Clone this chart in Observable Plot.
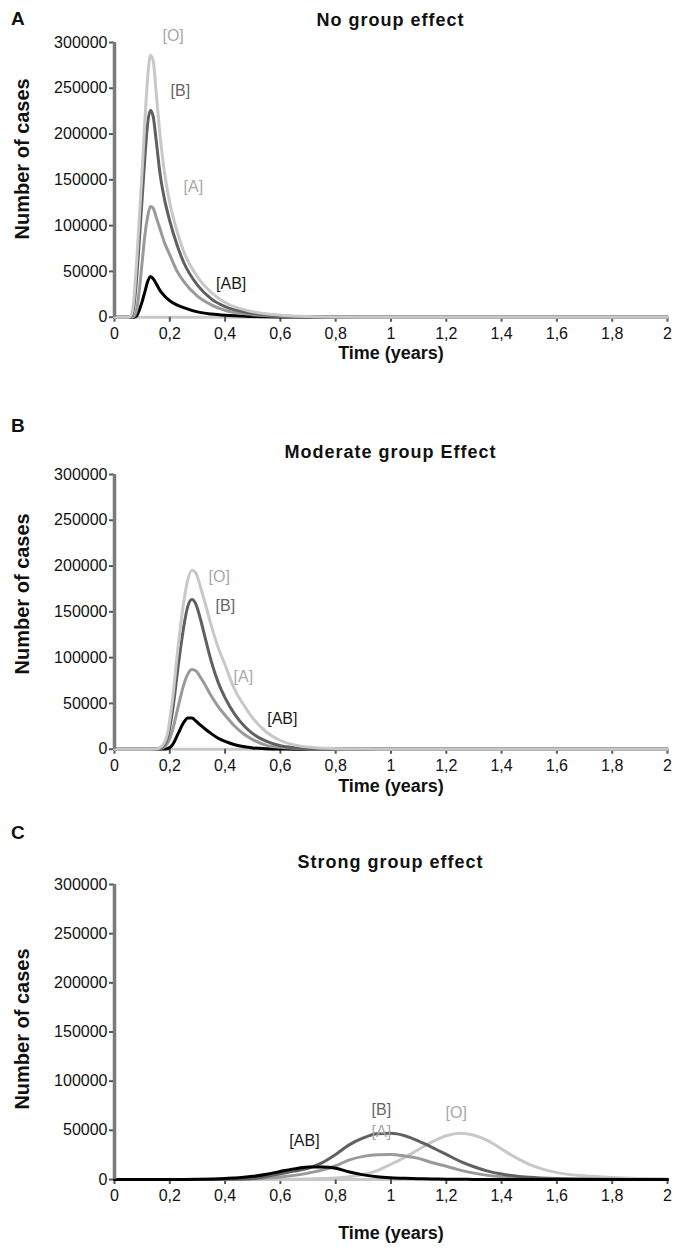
<!DOCTYPE html>
<html>
<head>
<meta charset="utf-8">
<script src="https://cdn.jsdelivr.net/npm/d3@7"></script>
<script src="https://cdn.jsdelivr.net/npm/@observablehq/plot@0.6"></script>
<style>
  html, body { margin: 0; padding: 0; background: #fff; }
  body { width: 681px; height: 1253px; position: relative; overflow: hidden; font-family: "Liberation Sans", Arial, sans-serif; color: #111; }
  .letter { position: absolute; left: 11px; font-weight: bold; font-size: 19px; line-height: 1; }
  .title { position: absolute; left: 114px; width: 553px; text-align: center; font-weight: bold; font-size: 18px; letter-spacing: 1px; line-height: 1; }
  .panel { position: absolute; left: 0; top: 0; }
</style>
</head>
<body>
<div class="letter" style="top:9px">A</div>
<div class="title" style="top:11px">No group effect</div>
<div class="panel" id="pA" style="top:30px"></div>

<div class="letter" style="top:416px">B</div>
<div class="title" style="top:443px">Moderate group Effect</div>
<div class="panel" id="pB" style="top:462px"></div>

<div class="letter" style="top:823px">C</div>
<div class="title" style="top:853px">Strong group effect</div>
<div class="panel" id="pC" style="top:872px"></div>

<script>
// ---------- axis ticks ----------
const xTicks = [0, 0.2, 0.4, 0.6, 0.8, 1, 1.2, 1.4, 1.6, 1.8, 2];
const xTickLabels = ["0", "0,2", "0,4", "0,6", "0,8", "1", "1,2", "1,4", "1,6", "1,8", "2"];
const yTicks = [0, 50000, 100000, 150000, 200000, 250000, 300000];
const yTickLabels = ["0", "50000", "100000", "150000", "200000", "250000", "300000"];
const groups = ["[O]", "[B]", "[A]", "[AB]"];

// ---------- Panel A: no group effect ----------
const timeA   = [0, 0.05, 0.06, 0.07, 0.08, 0.09, 0.10, 0.11, 0.12, 0.13, 0.14, 0.15, 0.165, 0.18, 0.20, 0.225, 0.25, 0.30, 0.35, 0.40, 0.50, 0.60, 0.70, 0.80, 1.00, 2.00];
const casesA_O  = [0, 0, 2000, 20000, 60000, 110000, 160000, 215000, 262000, 286000, 280000, 248000, 198000, 160000, 125000, 95000, 72000, 44000, 27000, 16000, 6000, 2200, 700, 200, 0, 0];
const casesA_B  = [0, 0, 1000, 12000, 42000, 85000, 130000, 175000, 212000, 226000, 219000, 195000, 156000, 130000, 105000, 80000, 60000, 35000, 20000, 11500, 4200, 1400, 400, 100, 0, 0];
const casesA_A  = [0, 0, 0, 1000, 8000, 30000, 60000, 90000, 110000, 121000, 119000, 110000, 96000, 82000, 68000, 51000, 39000, 23000, 13500, 7500, 2800, 900, 250, 50, 0, 0];
const casesA_AB = [0, 0, 0, 0, 1500, 8000, 17000, 28000, 39000, 44500, 42000, 37000, 29000, 23500, 18000, 13500, 10500, 5800, 3400, 2000, 700, 200, 50, 0, 0, 0];
const labelsA_t = [0.212, 0.238, 0.285, 0.422];
const labelsA_v = [307000, 247000, 142600, 36700];

// ---------- Panel B: moderate group effect ----------
const timeB   = [0, 0.10, 0.15, 0.17, 0.19, 0.21, 0.23, 0.25, 0.265, 0.28, 0.295, 0.31, 0.33, 0.35, 0.375, 0.40, 0.435, 0.47, 0.50, 0.55, 0.60, 0.65, 0.70, 0.80, 0.90, 1.00, 2.00];
const casesB_O  = [0, 0, 300, 3000, 15000, 55000, 112000, 160000, 185000, 195500, 192000, 178000, 157000, 135000, 111000, 92000, 65000, 47000, 34000, 18500, 9500, 4700, 2300, 600, 150, 0, 0];
const casesB_B  = [0, 0, 200, 2000, 11000, 42000, 90000, 133000, 156000, 163500, 158000, 143000, 119000, 96000, 73000, 56000, 38000, 25000, 17000, 8500, 3800, 1700, 700, 150, 0, 0, 0];
const casesB_A  = [0, 0, 100, 1000, 5500, 21000, 46000, 70000, 82000, 87000, 85500, 79000, 69000, 58000, 46500, 37000, 25000, 16000, 10500, 4200, 2000, 900, 350, 50, 0, 0, 0];
const casesB_AB = [0, 0, 0, 100, 500, 5000, 17000, 29000, 34000, 34000, 30500, 26500, 21500, 17000, 12000, 8500, 4800, 2600, 1400, 500, 200, 50, 0, 0, 0, 0, 0];
const labelsB_t = [0.379, 0.401, 0.466, 0.607];
const labelsB_v = [188300, 156600, 78800, 32800];

// ---------- Panel C: strong group effect ----------
const timeC   = [0, 0.20, 0.30, 0.40, 0.45, 0.50, 0.55, 0.60, 0.65, 0.70, 0.75, 0.80, 0.85, 0.90, 0.95, 1.00, 1.05, 1.10, 1.15, 1.20, 1.25, 1.30, 1.35, 1.40, 1.45, 1.50, 1.60, 1.70, 1.80, 1.90, 2.00];
const casesC_O  = [0, 0, 0, 0, 0, 0, 0, 100, 300, 500, 900, 1500, 2800, 5000, 9000, 15500, 22500, 30500, 38500, 44500, 47000, 45000, 39500, 31000, 22500, 15500, 7000, 3700, 2000, 1100, 600];
const casesC_B  = [0, 0, 0, 200, 500, 1000, 3000, 5900, 8500, 11500, 17000, 25500, 35500, 42300, 46500, 47000, 44500, 39000, 32500, 25500, 18500, 13000, 8500, 5500, 3500, 2200, 900, 400, 150, 50, 0];
const casesC_A  = [0, 0, 0, 0, 200, 600, 1500, 2600, 4200, 6500, 9500, 14000, 20000, 23500, 25200, 25500, 24000, 21500, 17000, 13500, 9500, 6500, 4200, 2700, 1700, 1000, 400, 150, 50, 0, 0];
const casesC_AB = [0, 0, 300, 1100, 1800, 3200, 5400, 8200, 10800, 12600, 12800, 11500, 7600, 4700, 2800, 1800, 1200, 800, 500, 300, 200, 100, 0, 0, 0, 0, 0, 0, 0, 0, 0];
const labelsC_t = [1.236, 0.965, 0.965, 0.687];
const labelsC_v = [67400, 70500, 48000, 39000];

// ---------- styling ----------
const lineColor  = {"[O]": "#c8c8c8", "[B]": "#606060", "[A]": "#9a9a9a", "[AB]": "#000000"};
const labelColor = {"[O]": "#a8a8a8", "[B]": "#666666", "[A]": "#a8a8a8", "[AB]": "#1a1a1a"};

function series(time, values) {
  return time.map((t, i) => ({t, v: values[i]}));
}

function panel(opts) {
  const {time, values, order, labT, labV, height, marginBottom, yLabelDy, xLabelDy} = opts;
  const lines = order.map(g => Plot.line(series(time, values[g]), {
    x: "t", y: "v", stroke: lineColor[g], strokeWidth: 3, curve: "monotone-x"
  }));
  const labRows = groups.map((g, i) => ({g, t: labT[i], v: labV[i]}));
  return Plot.plot({
    width: 681,
    height,
    marginLeft: 114,
    marginRight: 14,
    marginTop: 12,
    marginBottom,
    style: {fontFamily: "'Liberation Sans', Arial, sans-serif", fontSize: "16px", color: "#111", background: "transparent", overflow: "visible"},
    x: {domain: [0, 2]},
    y: {domain: [0, 300000]},
    marks: [
      Plot.ruleY([0], {stroke: "#c8c8c8", strokeWidth: 3}),
      Plot.axisX({ticks: xTicks, tickFormat: (d, i) => xTickLabels[i], tickSize: 5, tickPadding: 5, stroke: "#555", strokeWidth: 2, label: null}),
      Plot.axisY({ticks: yTicks, tickFormat: (d, i) => yTickLabels[i], tickSize: 5, tickPadding: 2, stroke: "#555", strokeWidth: 2, label: null}),
      ...lines,
      Plot.ruleX([0], {stroke: "#7a7a7a", strokeWidth: 3.5}),
      Plot.text(labRows, {x: "t", y: "v", text: "g", fill: d => labelColor[d.g], fontSize: 16}),
      Plot.text(["Number of cases"], {frameAnchor: "left", textAnchor: "middle", lineAnchor: "middle", rotate: -90, dx: -92, dy: yLabelDy, fontSize: 20, fontWeight: "bold", fill: "#111"}),
      Plot.text(["Time (years)"], {frameAnchor: "bottom", textAnchor: "middle", lineAnchor: "middle", dy: xLabelDy, fontSize: 18, fontWeight: "bold", fill: "#111"})
    ]
  });
}

document.getElementById("pA").append(panel({
  time: timeA,
  values: {"[O]": casesA_O, "[B]": casesA_B, "[A]": casesA_A, "[AB]": casesA_AB},
  order: ["[AB]", "[A]", "[B]", "[O]"],
  labT: labelsA_t, labV: labelsA_v,
  height: 338, marginBottom: 51.3, yLabelDy: -21, xLabelDy: 36
}));
document.getElementById("pB").append(panel({
  time: timeB,
  values: {"[O]": casesB_O, "[B]": casesB_B, "[A]": casesB_A, "[AB]": casesB_AB},
  order: ["[AB]", "[A]", "[B]", "[O]"],
  labT: labelsB_t, labV: labelsB_v,
  height: 338, marginBottom: 51.3, yLabelDy: -18, xLabelDy: 37
}));
document.getElementById("pC").append(panel({
  time: timeC,
  values: {"[O]": casesC_O, "[B]": casesC_B, "[A]": casesC_A, "[AB]": casesC_AB},
  order: ["[O]", "[A]", "[B]", "[AB]"],
  labT: labelsC_t, labV: labelsC_v,
  height: 373, marginBottom: 66, yLabelDy: -3, xLabelDy: 54
}));
</script>
</body>
</html>
